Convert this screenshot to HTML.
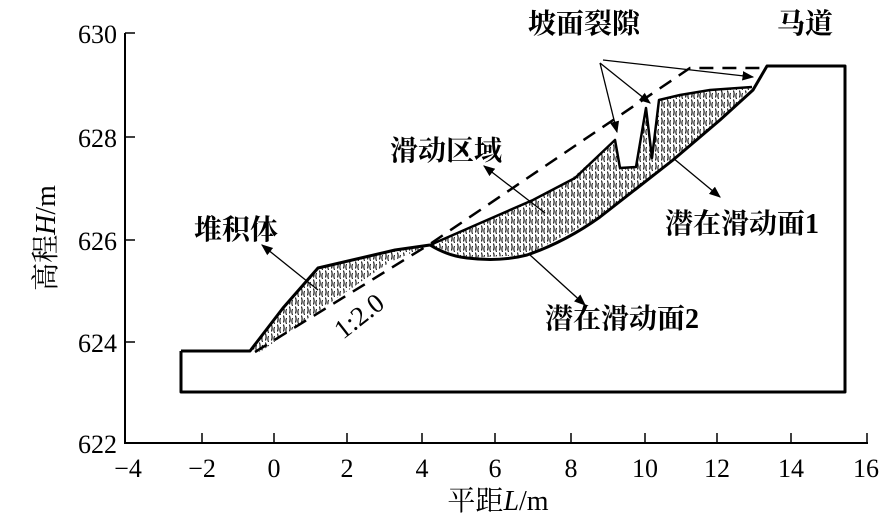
<!DOCTYPE html>
<html><head><meta charset="utf-8"><style>
html,body{margin:0;padding:0;background:#fff}
svg{display:block}
text{font-family:"Liberation Serif","Noto Serif CJK SC",serif;fill:#000}
</style></head><body>
<svg width="894" height="528" viewBox="0 0 894 528" xmlns="http://www.w3.org/2000/svg">
<defs>
<pattern id="h" width="6" height="9" patternUnits="userSpaceOnUse">
<path d="M1.5 0.5 q1.2 3.5 0 7" stroke="#000" stroke-width="1.1" fill="none"/>
<path d="M4.5 3 q-1.2 3 0 6" stroke="#000" stroke-width="1" fill="none"/>
</pattern>
<marker id="a" viewBox="0 0 10 10" refX="9" refY="5" markerWidth="9" markerHeight="9" orient="auto"><path d="M0 1 L10 5 L0 9 Z" fill="#000"/></marker>
</defs>
<g stroke="#000" stroke-width="2" fill="none">
<path d="M125 33 V443 H868"/>
</g>
<g stroke="#000" stroke-width="1.5">
<path d="M125 137 h10 M125 240 h10 M125 342 h10 M125 33 h10"/>
<path d="M202 443 v-10 M274 443 v-10 M347 443 v-10 M422 443 v-10 M495 443 v-10 M571 443 v-10 M645 443 v-10 M717 443 v-10 M791 443 v-10 M867 443 v-10"/>
</g>
<g font-size="26" text-anchor="end">
<text x="117" y="43">630</text><text x="117" y="147">628</text><text x="117" y="250">626</text><text x="117" y="352">624</text><text x="117" y="453">622</text>
</g>
<g font-size="26" text-anchor="middle">
<text x="128" y="477">−4</text><text x="202" y="477">−2</text><text x="274" y="477">0</text><text x="347" y="477">2</text><text x="422" y="477">4</text><text x="495" y="477">6</text><text x="571" y="477">8</text><text x="645" y="477">10</text><text x="717" y="477">12</text><text x="791" y="477">14</text><text x="866" y="477">16</text>
</g>
<text x="498" y="510" font-size="28" text-anchor="middle">平距<tspan font-style="italic">L</tspan>/m</text>
<text transform="translate(55 238) rotate(-90)" font-size="28" text-anchor="middle">高程<tspan font-style="italic">H</tspan>/m</text>

<path d="M250 351 L283 308 L318 268 L395 250 L430 245 L390 262 L340 296 L260 352 Z" fill="url(#h)"/>
<path d="M430 245 L533 200 L570 180 L615 140 L620 168 L636 167 L646 110 L652 158 L659 100 L680 95 L710 90 L752 87 L720 120 L673 160 L600 217 L527 255 L467 258 Z" fill="url(#h)"/>
<g stroke="#000" stroke-width="3" fill="none" stroke-linejoin="round">
<path d="M181 351 H250 L283 308 L318 268 L395 250 L430 245"/>
<path d="M430 245 L533 200 L575 178 L615 140 L620 168 L636 167 L646 108 L652 158 L659 100 L680 95 L710 90 L752 87" stroke-width="2.5"/>
<path d="M430 245 Q448 256 467 258 Q500 262 527 255 Q565 242 600 217 L673 160 L720 120 L753 90 L767 66 H845 V392 H181 V351"/>
</g>
<path d="M255 352 L430 244 L690 68 H767" stroke="#000" stroke-width="2.5" fill="none" stroke-dasharray="14 9"/>
<g stroke="#000" stroke-width="1.3" fill="none" marker-end="url(#a)">
<path d="M600 63 L617 132"/>
<path d="M600 63 L650 103"/>
<path d="M603 60 L753 77"/>
<path d="M318 290 L262 245"/>
<path d="M545 213 L484 166"/>
<path d="M673 158 L720 197"/>
<path d="M530 255 L585 305"/>
</g>
<g font-size="28" font-weight="bold">
<text x="528" y="33">坡面裂隙</text>
<text x="777" y="33">马道</text>
<text x="390" y="160">滑动区域</text>
<text x="194" y="239">堆积体</text>
<text x="665" y="233">潜在滑动面1</text>
<text x="545" y="328">潜在滑动面2</text>
</g>
<text transform="translate(343 340) rotate(-38)" font-size="27">1:2.0</text>
</svg>
</body></html>
